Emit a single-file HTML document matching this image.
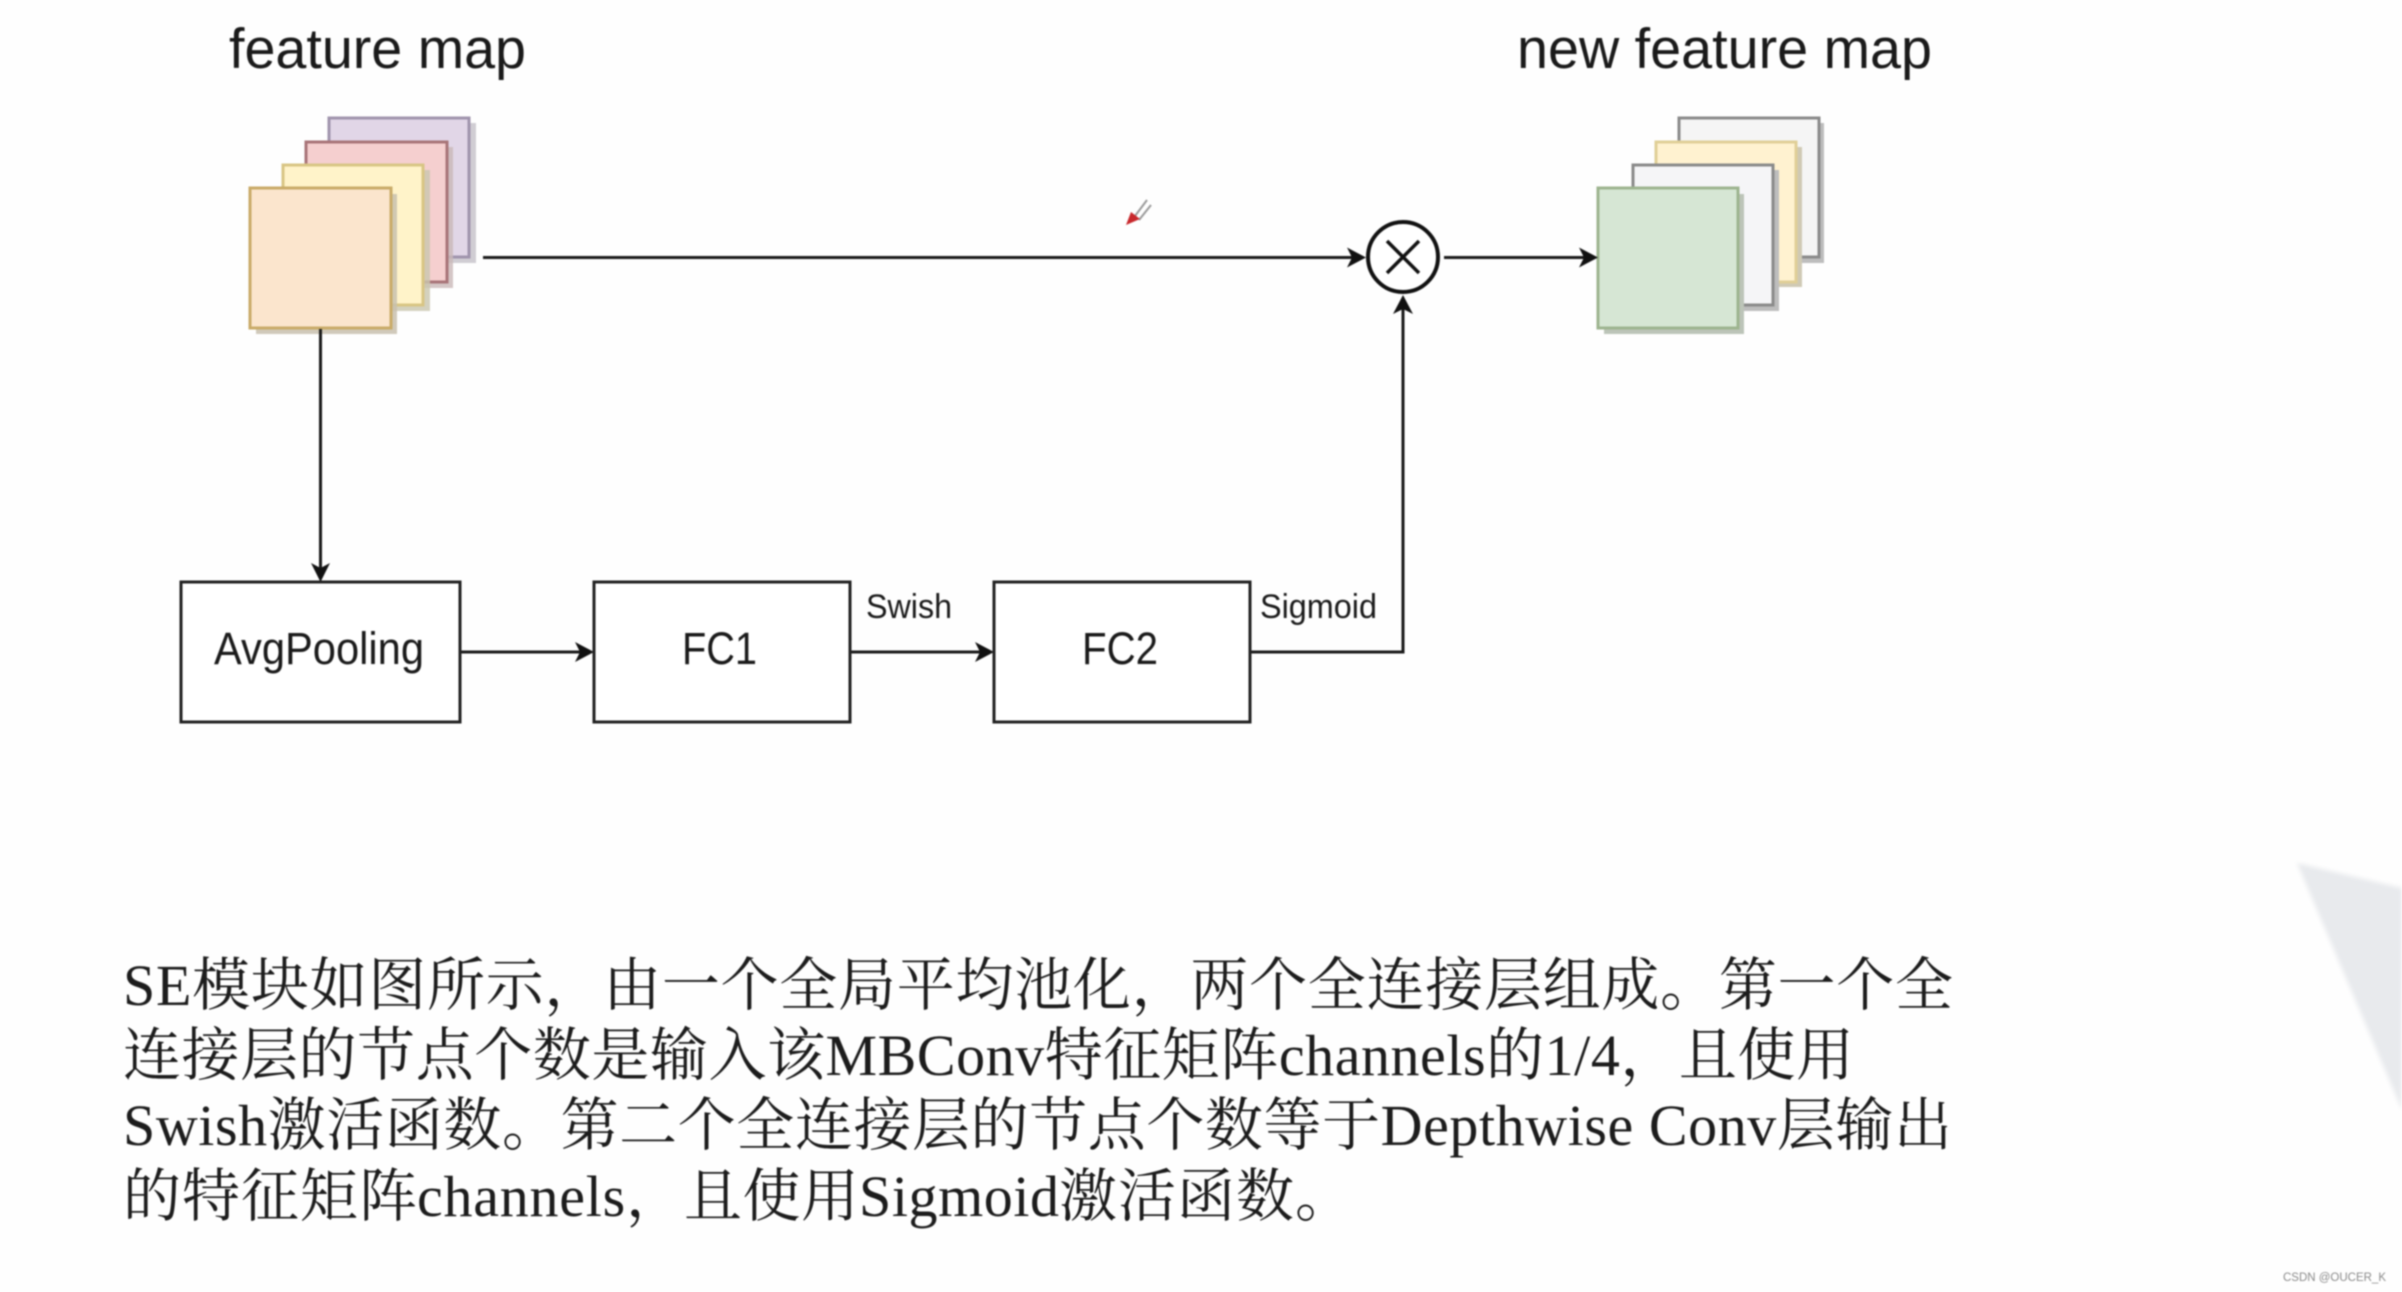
<!DOCTYPE html>
<html lang="zh-Hans">
<head>
<meta charset="utf-8">
<title>SE module</title>
<style>
html,body{margin:0;padding:0;background:#fefefe;width:2402px;height:1292px;overflow:hidden}
svg{display:block;filter:blur(0.8px)}
.s{font-family:"Liberation Sans",sans-serif;fill:#1a1a1a}
.b{font-family:"Liberation Serif","Noto Serif CJK SC",serif;fill:#1c1c1c;font-size:58px}
</style>
</head>
<body>
<svg width="2402" height="1292" viewBox="0 0 2402 1292" xmlns="http://www.w3.org/2000/svg">
<rect width="2402" height="1292" fill="#fefefe"/>
<polygon points="2297,863 2402,888 2402,1110" fill="#e8eaed" style="filter:blur(2px)"/>

<text class="s" x="229" y="68" font-size="57" textLength="297" lengthAdjust="spacingAndGlyphs">feature map</text>
<text class="s" x="1517" y="68" font-size="57" textLength="415" lengthAdjust="spacingAndGlyphs">new feature map</text>

<!-- left stack -->
<g stroke-width="3">
<rect x="335" y="123" width="141" height="140" fill="#c4c0c8" opacity=".8"/>
<rect x="329" y="118" width="140" height="139" fill="#e1d6e7" stroke="#a094ad"/>
<rect x="312" y="147" width="141" height="141" fill="#c9b8b8" opacity=".8"/>
<rect x="306" y="142" width="141" height="140" fill="#f5cfcf" stroke="#a87478"/>
<rect x="289" y="170" width="141" height="141" fill="#c9c6ae" opacity=".8"/>
<rect x="283" y="165" width="140" height="140" fill="#fff3c9" stroke="#d8c584"/>
<rect x="256" y="194" width="141" height="140" fill="#c8c0ae" opacity=".85"/>
<rect x="250" y="188" width="141" height="140" fill="#fbe5cd" stroke="#c9ab68"/>
</g>

<!-- right stack -->
<g stroke-width="3">
<rect x="1684" y="123" width="140" height="140" fill="#bdbdbd"/>
<rect x="1679" y="118" width="140" height="139" fill="#f5f5f5" stroke="#8a8a8a"/>
<rect x="1662" y="147" width="140" height="140" fill="#cfc9b4"/>
<rect x="1656" y="142" width="140" height="140" fill="#fff2d0" stroke="#e0cf97"/>
<rect x="1639" y="170" width="140" height="141" fill="#bdbdbd"/>
<rect x="1633" y="165" width="140" height="140" fill="#f5f5f7" stroke="#8a8a8a"/>
<rect x="1604" y="194" width="140" height="140" fill="#bcc4b8"/>
<rect x="1598" y="188" width="140" height="140" fill="#d6e6d4" stroke="#9db48f"/>
</g>

<!-- connectors -->
<g fill="none" stroke="#1a1a1a" stroke-width="3">
<line x1="483" y1="257.500" x2="1352" y2="257.500"/>
<line x1="1444" y1="257.500" x2="1586" y2="257.500"/>
<line x1="320.500" y1="329" x2="320.500" y2="570"/>
<line x1="460" y1="652" x2="582" y2="652"/>
<line x1="850" y1="652" x2="982" y2="652"/>
<polyline points="1250,652 1403,652 1403,308"/>
</g>
<g fill="#111">
<polygon points="1366,257.500 1347,247.500 1352,257.500 1347,267.500"/>
<polygon points="1598,257.500 1579,247.500 1584,257.500 1579,267.500"/>
<polygon points="320.500,582 311,563 320.500,568 330,563"/>
<polygon points="594,652 575,642 580,652 575,662"/>
<polygon points="994,652 975,642 980,652 975,662"/>
<polygon points="1403,295 1393,314 1403,309 1413,314"/>
</g>

<!-- multiply circle -->
<circle cx="1403" cy="257" r="35" fill="#fff" stroke="#111" stroke-width="4"/>
<g stroke="#111" stroke-width="3.500">
<line x1="1387" y1="241" x2="1419" y2="273"/>
<line x1="1419" y1="241" x2="1387" y2="273"/>
</g>

<!-- boxes -->
<g fill="#fff" stroke="#222" stroke-width="3">
<rect x="181" y="582" width="279" height="140"/>
<rect x="594" y="582" width="256" height="140"/>
<rect x="994" y="582" width="256" height="140"/>
</g>
<text class="s" x="214" y="664" font-size="45" textLength="210" lengthAdjust="spacingAndGlyphs">AvgPooling</text>
<text class="s" x="682" y="664" font-size="45" textLength="75" lengthAdjust="spacingAndGlyphs">FC1</text>
<text class="s" x="1082" y="664" font-size="45" textLength="76" lengthAdjust="spacingAndGlyphs">FC2</text>
<text class="s" x="866" y="618" font-size="34" textLength="86" lengthAdjust="spacingAndGlyphs">Swish</text>
<text class="s" x="1260" y="618" font-size="34" textLength="117" lengthAdjust="spacingAndGlyphs">Sigmoid</text>

<!-- pointer -->
<g stroke="#9a9a9a" stroke-width="2" fill="none">
<line x1="1135" y1="216" x2="1147" y2="200"/>
<line x1="1139" y1="220" x2="1151" y2="205"/>
</g>
<polygon points="1126,225 1131,212 1140,219" fill="#c8282c"/>

<!-- paragraph -->
<text class="b" x="123" y="1005" textLength="1830" lengthAdjust="spacing">SE模块如图所示，由一个全局平均池化，两个全连接层组成。第一个全</text>
<text class="b" x="123" y="1075" textLength="1731" lengthAdjust="spacing">连接层的节点个数是输入该MBConv特征矩阵channels的1/4，且使用</text>
<text class="b" x="123" y="1145" textLength="1829" lengthAdjust="spacing">Swish激活函数。第二个全连接层的节点个数等于Depthwise Conv层输出</text>
<text class="b" x="123" y="1216" textLength="294" lengthAdjust="spacing">的特征矩阵</text>
<text class="b" x="417" y="1216" textLength="267" lengthAdjust="spacing">channels，</text>
<text class="b" x="684" y="1216" textLength="175" lengthAdjust="spacing">且使用</text>
<text class="b" x="859" y="1216" textLength="200" lengthAdjust="spacing">Sigmoid</text>
<text class="b" x="1059" y="1216" textLength="294" lengthAdjust="spacing">激活函数。</text>

<text x="2283" y="1281" font-family="'Liberation Sans',sans-serif" font-size="11.500" fill="#8a8a8a" textLength="103" lengthAdjust="spacingAndGlyphs">CSDN @OUCER_K</text>
</svg>
</body>
</html>
